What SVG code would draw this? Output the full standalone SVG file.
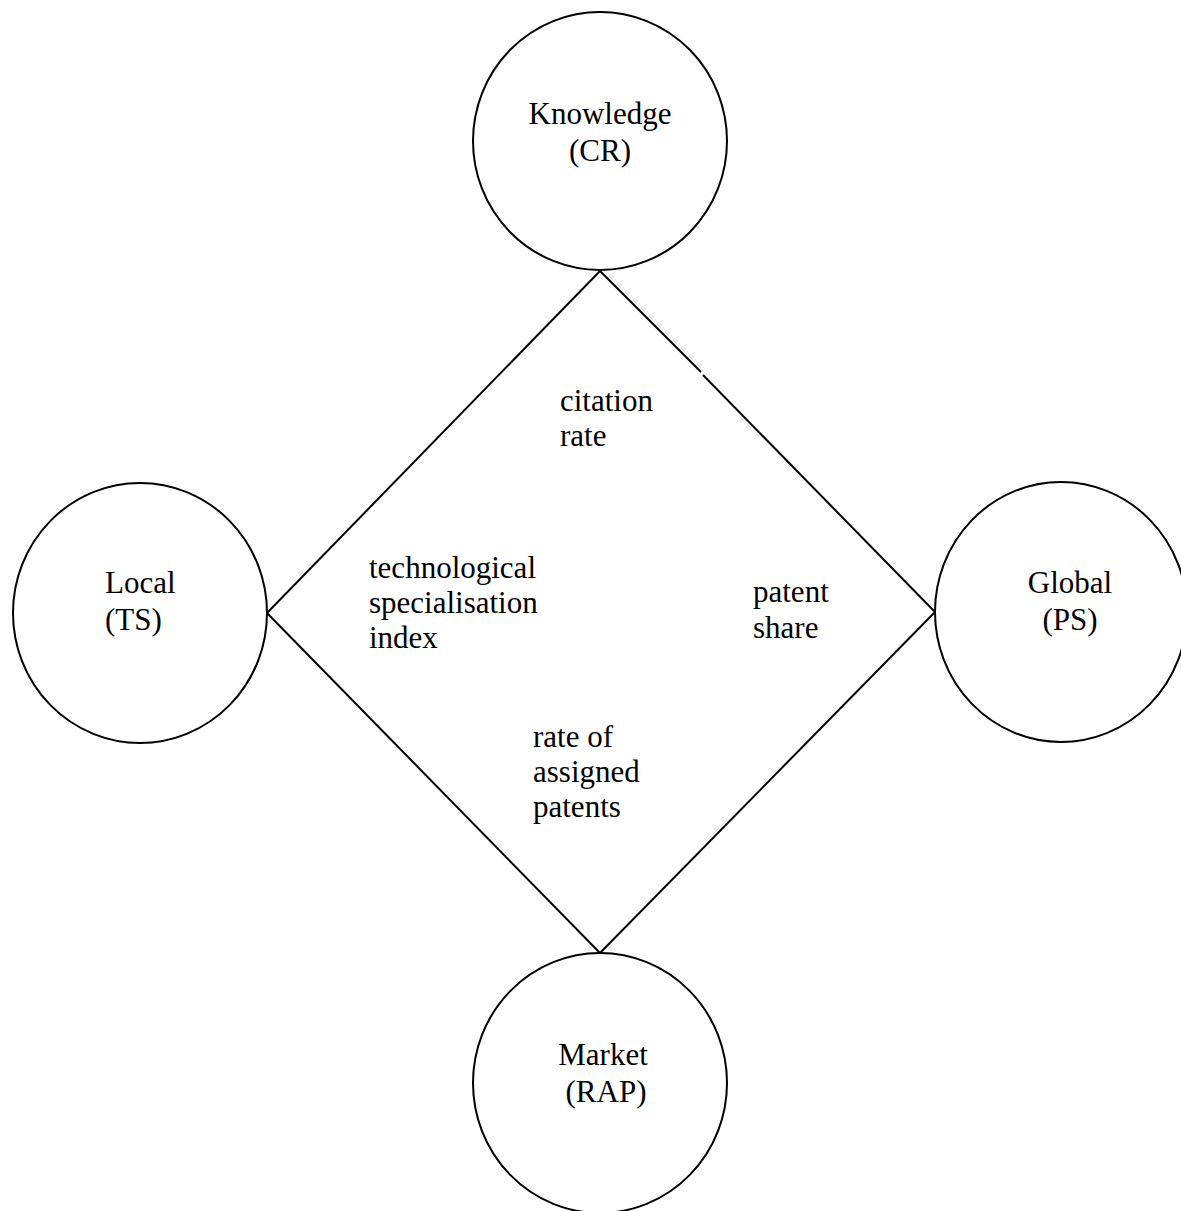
<svg xmlns="http://www.w3.org/2000/svg" width="1181" height="1211" viewBox="0 0 1181 1211">
<style>
.node{fill:#fff;stroke:#000;stroke-width:2}
.edge{stroke:#000;stroke-width:2;fill:none}
text{font-family:"Liberation Serif","Times New Roman",serif;font-size:31px;fill:#000}
.c{text-anchor:middle}
</style>
<rect width="1181" height="1211" fill="#fff"/>
<g id="connectors">
<line class="edge" x1="600" y1="271" x2="267" y2="613"/>
<line class="edge" x1="600" y1="271" x2="701" y2="372"/>
<line class="edge" x1="703" y1="375" x2="935" y2="612"/>
<line class="edge" x1="267" y1="613" x2="600" y2="953"/>
<line class="edge" x1="935" y1="612" x2="600" y2="953"/>
</g>
<g id="knowledge">
<ellipse class="node" cx="600" cy="141" rx="127" ry="129"/>
<text class="c" x="600" y="124">Knowledge</text>
<text class="c" x="600" y="161">(CR)</text>
</g>
<g id="local">
<ellipse class="node" cx="140" cy="613" rx="127" ry="130"/>
<text x="105" y="593">Local</text>
<text x="105" y="630">(TS)</text>
</g>
<g id="global">
<ellipse class="node" cx="1061" cy="612" rx="126" ry="130"/>
<text class="c" x="1070" y="593">Global</text>
<text class="c" x="1070" y="630">(PS)</text>
</g>
<g id="market">
<ellipse class="node" cx="600" cy="1083" rx="127" ry="130"/>
<text class="c" x="603" y="1065">Market</text>
<text class="c" x="606" y="1102">(RAP)</text>
</g>
<g id="labels">
<text x="560" y="411">citation</text>
<text x="560" y="446">rate</text>
<text x="369" y="578">technological</text>
<text x="369" y="613">specialisation</text>
<text x="369" y="648">index</text>
<text x="753" y="602">patent</text>
<text x="753" y="638">share</text>
<text x="533" y="747">rate of</text>
<text x="533" y="782">assigned</text>
<text x="533" y="817">patents</text>
</g>
</svg>
